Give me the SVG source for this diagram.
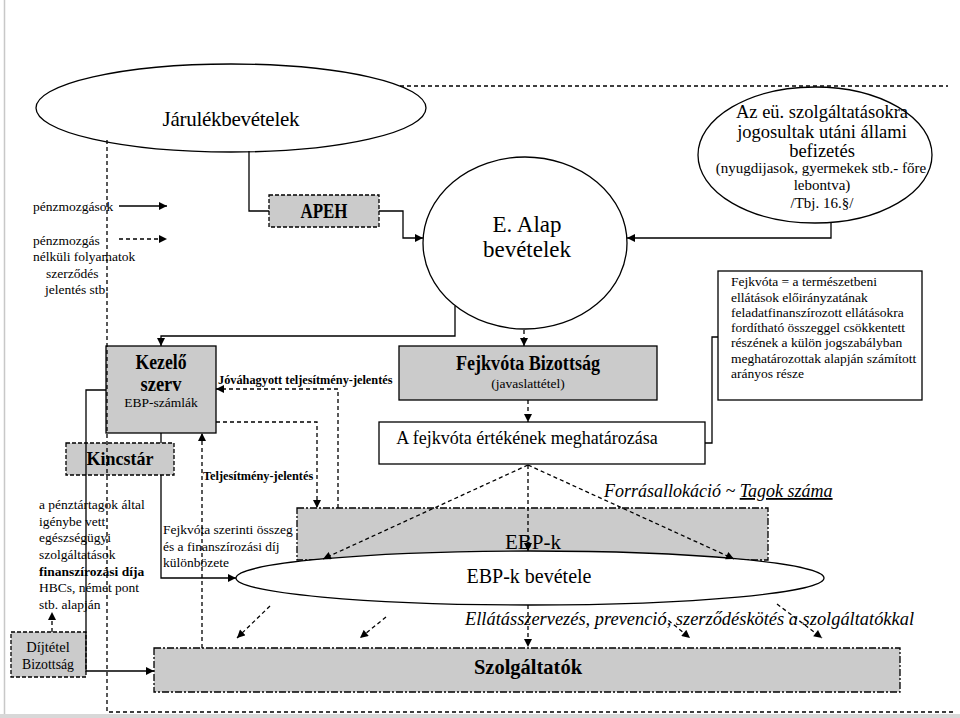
<svg xmlns="http://www.w3.org/2000/svg" width="960" height="718" viewBox="0 0 960 718" font-family="'Liberation Serif', 'Times New Roman', 'DejaVu Serif', serif">
<defs>
<marker id="ah" viewBox="0 0 10 10" refX="10" refY="5" markerWidth="9" markerHeight="8" orient="auto" markerUnits="userSpaceOnUse"><path d="M0,0 L10,5 L0,10 z" fill="#000"/></marker>
</defs>
<style>
text{font-family:'Liberation Serif','Times New Roman','DejaVu Serif',serif;fill:#000}
.b{font-weight:bold}
.i{font-style:italic}
.m{text-anchor:middle}
.ln{fill:none;stroke:#000;stroke-width:1.3}
.ds{fill:none;stroke:#000;stroke-width:1.3;stroke-dasharray:4 3}
.gb{fill:#cbcbcb;stroke:#000;stroke-width:1.3}
.gd{fill:#cbcbcb;stroke:#000;stroke-width:1.3;stroke-dasharray:4 2}
.gdd{fill:#cbcbcb;stroke:#000;stroke-width:1.3;stroke-dasharray:7 2 2 2}
.wb{fill:#fff;stroke:#000;stroke-width:1.3}
</style>
<rect x="0" y="0" width="960" height="718" fill="#fff"/>
<line x1="4.5" y1="0" x2="4.5" y2="714" stroke="#c8c8c8" stroke-width="1.5"/>
<rect x="0" y="714" width="960" height="4" fill="#d8d8d8"/>

<g id="legend">
<text x="33" y="211" font-size="13.5">pénzmozgások</text>
<text x="33" y="245" font-size="13.5">pénzmozgás</text>
<text x="33" y="261" font-size="13.5">nélküli folyamatok</text>
<text x="46" y="278" font-size="13.5">szerződés</text>
<text x="45" y="294" font-size="13.5">jelentés stb.</text>
</g>

<g id="jarulek">
<ellipse cx="231" cy="108" rx="195" ry="44" class="wb"/>
<text x="231" y="126" font-size="21" class="m" textLength="137">Járulékbevételek</text>
</g>

<g id="apeh">
<rect x="269" y="195" width="110" height="32" class="gd"/>
<text x="324" y="218" font-size="20" class="b m" textLength="47" lengthAdjust="spacingAndGlyphs">APEH</text>
</g>

<g id="ealap">
<ellipse cx="525" cy="243" rx="102" ry="86" class="wb"/>
<text x="527" y="232" font-size="23" class="m">E. Alap</text>
<text x="527" y="257" font-size="23" class="m">bevételek</text>
</g>

<g id="allami">
<ellipse cx="815" cy="155" rx="117" ry="68" class="wb"/>
<text x="822" y="118" font-size="18.5" class="m">Az eü. szolgáltatásokra</text>
<text x="822" y="138" font-size="18.5" class="m">jogosultak utáni állami</text>
<text x="822" y="157" font-size="18.5" class="m">befizetés</text>
<text x="821" y="173" font-size="15" class="m">(nyugdijasok, gyermekek stb.- főre</text>
<text x="822" y="190" font-size="15" class="m">lebontva)</text>
<text x="822" y="208" font-size="15" class="m">/Tbj. 16.§/</text>
</g>

<g id="fejkvota-def">
<rect x="718" y="271" width="204" height="129" class="wb"/>
<text x="731" y="286" font-size="13.5">Fejkvóta = a természetbeni</text>
<text x="731" y="302" font-size="13.5">ellátások előirányzatának</text>
<text x="731" y="317" font-size="13.5">feladatfinanszírozott ellátásokra</text>
<text x="731" y="332" font-size="13.5">fordítható összeggel csökkentett</text>
<text x="731" y="347" font-size="13.5">részének a külön jogszabályban</text>
<text x="731" y="363" font-size="13.5">meghatározottak alapján számított</text>
<text x="731" y="378" font-size="13.5">arányos része</text>
</g>

<g id="kezelo">
<rect x="106" y="346" width="110" height="87" class="gb"/>
<text x="161" y="369" font-size="20" class="b m" textLength="51" lengthAdjust="spacingAndGlyphs">Kezelő</text>
<text x="161" y="391" font-size="20" class="b m" textLength="41" lengthAdjust="spacingAndGlyphs">szerv</text>
<text x="161" y="407" font-size="13.5" class="m">EBP-számlák</text>
</g>

<g id="fejkvota-biz">
<rect x="399" y="346" width="258" height="54" class="gb"/>
<text x="528" y="370" font-size="20" class="b m" textLength="144" lengthAdjust="spacingAndGlyphs">Fejkvóta Bizottság</text>
<text x="528" y="388" font-size="13.5" class="m">(javaslattétel)</text>
</g>

<g id="fejkvota-ertek">
<rect x="379" y="422" width="326" height="42" class="wb"/>
<text x="527" y="444" font-size="18" class="m">A fejkvóta értékének meghatározása</text>
</g>

<g id="kincstar">
<rect x="66" y="443" width="108" height="32" class="gd"/>
<text x="120" y="465" font-size="18" class="b m">Kincstár</text>
</g>

<g id="finansz-dij">
<text x="39" y="509" font-size="13.5">a pénztártagok által</text>
<text x="39" y="526" font-size="13.5">igénybe vett</text>
<text x="39" y="542" font-size="13.5">egészségügyi</text>
<text x="39" y="559" font-size="13.5">szolgáltatások</text>
<text x="39" y="576" font-size="13.5" class="b">finanszírozási díja</text>
<text x="39" y="592" font-size="13.5">HBCs, német pont</text>
<text x="39" y="609" font-size="13.5">stb. alapján</text>
</g>

<g id="dijtetel">
<rect x="11" y="632" width="75" height="45" class="gd"/>
<text x="48" y="652" font-size="14.5" class="m">Díjtétel</text>
<text x="48" y="669" font-size="14.5" class="m" textLength="52" lengthAdjust="spacingAndGlyphs">Bizottság</text>
</g>

<g id="ebpk">
<rect x="297" y="508" width="471" height="52" class="gdd"/>
<text x="533" y="549" font-size="21" class="m">EBP-k</text>
</g>

<g id="ebpk-bevetele">
<ellipse cx="530" cy="578" rx="294" ry="27" class="wb"/>
<text x="529" y="583" font-size="20" class="m">EBP-k bevétele</text>
</g>

<g id="szolgaltatok">
<rect x="154" y="648" width="746" height="44" class="gdd"/>
<text x="528" y="674" font-size="20.5" class="b m">Szolgáltatók</text>
</g>

<g id="labels">
<text x="218" y="384" font-size="12.3" class="b">Jóváhagyott teljesítmény-jelentés</text>
<text x="203" y="480" font-size="12.3" class="b">Teljesítmény-jelentés</text>
<text x="163" y="534" font-size="13.5">Fejkvóta szerinti összeg</text>
<text x="163" y="551" font-size="13.5">és a finanszírozási díj</text>
<text x="163" y="567" font-size="13.5">különbözete</text>
<text x="604" y="497" font-size="18" class="i">Forrásallokáció ~ <tspan text-decoration="underline">Tagok száma</tspan></text>
<text x="465" y="625" font-size="18" class="i" textLength="449" lengthAdjust="spacingAndGlyphs">Ellátásszervezés, prevenció, szerződéskötés a szolgáltatókkal</text>
</g>

<g id="connectors">
<line x1="119" y1="206" x2="167" y2="206" class="ln" marker-end="url(#ah)"/>
<line x1="119" y1="239" x2="167" y2="239" class="ds" marker-end="url(#ah)"/>
<path d="M400,86 H948" class="ds"/>
<path d="M107,140 V712 H955" class="ds"/>
<path d="M249,151 V211 H269" class="ln"/>
<path d="M379,211 H403 V238 H423" class="ln" marker-end="url(#ah)"/>
<path d="M831,222 V238 H627" class="ln" marker-end="url(#ah)"/>
<path d="M455,306 V336 H161 V346" class="ln" marker-end="url(#ah)"/>
<line x1="524" y1="330" x2="524" y2="346" class="ds" marker-end="url(#ah)"/>
<line x1="528" y1="400" x2="528" y2="422" class="ds" marker-end="url(#ah)"/>
<path d="M718,337 H712 V443 H705" class="ln"/>
<path d="M106,390 H86 V671 H154" class="ln" marker-end="url(#ah)"/>
<line x1="161" y1="433" x2="161" y2="443" class="ln"/>
<path d="M161,475 V578 H236" class="ln" marker-end="url(#ah)"/>
<path d="M338,508 V389 H216" class="ds" marker-end="url(#ah)"/>
<path d="M216,422 H317 V508" class="ds" marker-end="url(#ah)"/>
<line x1="202" y1="648" x2="202" y2="433" class="ds" marker-end="url(#ah)"/>
<line x1="52" y1="632" x2="52" y2="612" class="ds" marker-end="url(#ah)"/>
<line x1="528" y1="465" x2="323" y2="559" class="ds" marker-end="url(#ah)"/>
<line x1="528" y1="465" x2="528" y2="551" class="ds" marker-end="url(#ah)"/>
<line x1="528" y1="465" x2="734" y2="559" class="ds" marker-end="url(#ah)"/>
<line x1="270" y1="606" x2="237" y2="638" class="ds" marker-end="url(#ah)"/>
<line x1="386" y1="617" x2="360" y2="638" class="ds" marker-end="url(#ah)"/>
<line x1="528" y1="605" x2="528" y2="647" class="ds" marker-end="url(#ah)"/>
<line x1="663" y1="616" x2="690" y2="638" class="ds" marker-end="url(#ah)"/>
<line x1="777" y1="604" x2="822" y2="638" class="ds" marker-end="url(#ah)"/>
</g>
</svg>
